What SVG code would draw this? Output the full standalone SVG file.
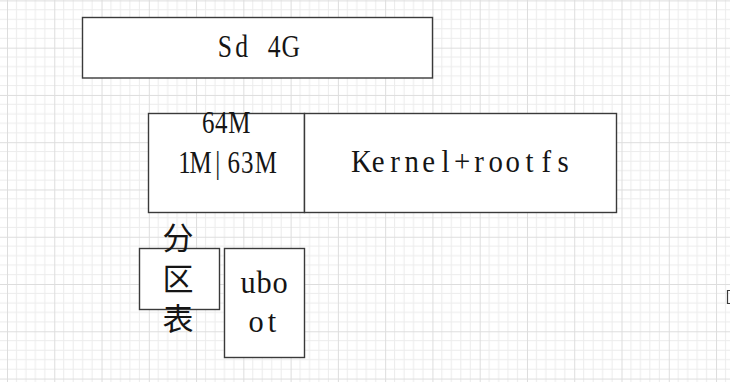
<svg xmlns="http://www.w3.org/2000/svg" width="730" height="382" viewBox="0 0 730 382">
  <defs>
    <pattern id="grid" width="47.27" height="47.27" patternUnits="userSpaceOnUse" x="7" y="0.4">
      <path d="M9.454 0V47.27M18.908 0V47.27M28.362 0V47.27M37.816 0V47.27M0 9.454H47.27M0 18.908H47.27M0 28.362H47.27M0 37.816H47.27" stroke="#ececec" stroke-width="1" fill="none"/>
      <path d="M0.5 0V47.27M0 0.5H47.27" stroke="#dddddd" stroke-width="1" fill="none"/>
    </pattern>
    <style>
      .box { fill: #ffffff; stroke: #3a3a3a; stroke-width: 1.4; }
      .t { font-family: "Liberation Serif", serif; font-size: 32px; fill: #151515; text-anchor: middle; }
      .cjk { font-family: "Noto Sans CJK SC", sans-serif; font-size: 31px; fill: #151515; text-anchor: middle; }
    </style>
  </defs>
  <rect width="730" height="382" fill="#ffffff"/>
  <rect width="730" height="382" fill="url(#grid)"/>

  <g id="sd4g">
    <rect class="box" x="82.5" y="17.5" width="350" height="60.5"/>
    <text class="t" transform="scale(0.8,1)" x="281.25 302.13 322.5 342.75 363.5" y="57">Sd 4G</text>
  </g>

  <g id="part64m">
    <rect class="box" x="148.5" y="113.5" width="156" height="99"/>
    <text class="t" transform="scale(0.78,1)" x="266.9 283.6 306.7" y="133">64M</text>
    <text class="t" transform="scale(0.78,1)" x="236.5 257.1 279.1 299.6 316.9 340.8" y="173">1M|63M</text>
  </g>

  <g id="kernel">
    <rect class="box" x="304.5" y="113.5" width="312" height="99"/>
    <text class="t" transform="scale(0.9,1)" x="401.56 420.22 438.89 457.56 476.22 494.89 513.56 532.22 550.89 569.56 588.22 606.89 625.56" y="172">Kernel+rootfs</text>
  </g>

  <g id="partition-table">
    <rect class="box" x="139.5" y="248.5" width="80" height="61"/>
    <text class="cjk"><tspan x="178" y="248.5">分</tspan><tspan x="178" y="290">区</tspan><tspan x="178" y="330">表</tspan></text>
  </g>

  <g id="uboot">
    <rect class="box" x="224.5" y="248.5" width="80" height="109"/>
    <text class="t" transform="scale(0.95,1)"><tspan x="261.05 277.89 294.74" y="293">ubo</tspan><tspan x="269.47 286.32" y="332">ot</tspan></text>
  </g>

  <g id="edge-mark">
    <path d="M730 290.5H727.5V303.5H730" fill="none" stroke="#3a3a3a" stroke-width="1.2"/>
  </g>
</svg>
